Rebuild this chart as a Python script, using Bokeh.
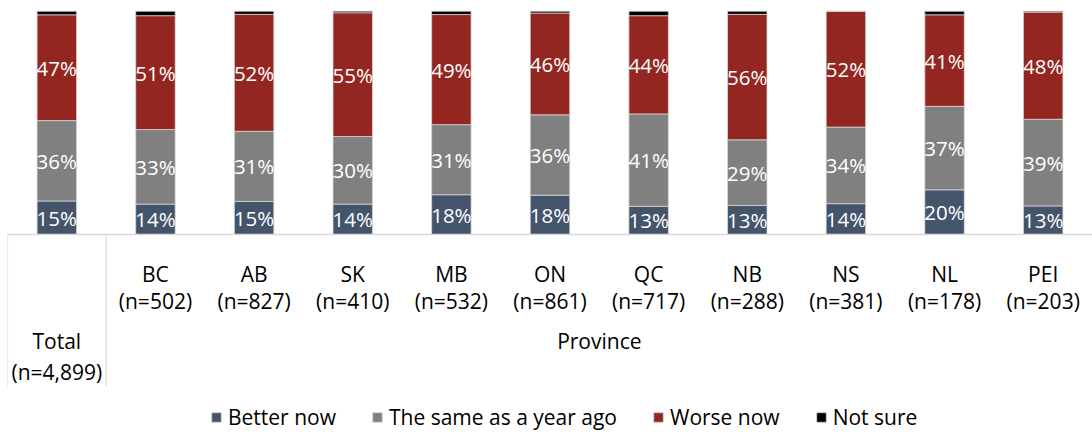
from bokeh.plotting import figure
from bokeh.models import FactorRange, Range1d, Legend, LegendItem, ColumnDataSource
from bokeh.core.properties import value
from bokeh.embed import file_html
from bokeh.resources import INLINE

# ---- data ----
group_names = ["Total\n(n=4,899)", "Province"]
groups = [group_names[0]] + [group_names[1]] * 10
provinces = ["", "BC", "AB", "SK", "MB", "ON", "QC", "NB", "NS", "NL", "PEI"]
sample_sizes = ["", "502", "827", "410", "532", "861", "717", "288", "381", "178", "203"]

better = [15.0, 13.6, 14.8, 13.6, 17.8, 17.6, 12.6, 13.0, 13.8, 20.0, 12.8]
same = [36.0, 33.4, 31.4, 30.3, 31.4, 36.0, 41.4, 29.4, 34.3, 37.4, 38.8]
worse = [47.4, 51.0, 52.4, 55.4, 49.3, 45.6, 44.0, 56.2, 51.9, 41.0, 48.0]
not_sure = [1.6, 2.0, 1.4, 0.7, 1.5, 0.8, 2.0, 1.4, 0.0, 1.6, 0.4]

series_names = ["Better now", "The same as a year ago", "Worse now", "Not sure"]
colors = ["#44546A", "#808080", "#932621", "#000000"]

FONT = "Open Sans"

sub_labels = [f"{p}\n(n={n})" if p else "" for p, n in zip(provinces, sample_sizes)]
x = list(zip(groups, sub_labels))

src = ColumnDataSource(dict(x=x, better=better, same=same, worse=worse, not_sure=not_sure))

p = figure(
    x_range=FactorRange(*x, factor_padding=0, group_padding=0, range_padding=0),
    y_range=Range1d(-88.7, 104.8),
    width=1092, height=432,
    output_backend="svg", toolbar_location=None,
    y_axis_location=None,
    min_border_left=7, min_border_right=0, min_border_top=0, min_border_bottom=0,
)
p.outline_line_color = None
p.xgrid.grid_line_color = None
p.ygrid.grid_line_color = None

renderers = p.vbar_stack(
    ["better", "same", "worse", "not_sure"], x="x", width=0.4, source=src,
    fill_color=colors, line_color="#D9D9D9", line_width=0.75,
)

# data labels
lab_x, lab_y, lab_t = [], [], []
for i in range(len(x)):
    base = 0.0
    for s in (better, same, worse):
        lab_x.append(x[i])
        lab_y.append(base + s[i] / 2)
        lab_t.append(f"{round(s[i])}%")
        base += s[i]
p.text(x=lab_x, y=lab_y, text=lab_t, text_align="center", text_baseline="middle",
       text_color="white", text_font=value(FONT), text_font_size="20.5px")

# category separators (Excel-style box lines)
sep_x = [(groups[0], sub_labels[0], -0.5), (groups[0], sub_labels[0], 0.5)]
p.segment(x0=sep_x, y0=[0, 0], x1=sep_x, y1=[-68, -68], line_color="#D9D9D9", line_width=1.2)

ax = p.xaxis[0]
ax.fixed_location = 0
ax.axis_line_color = "#D9D9D9"
ax.axis_line_width = 1.5
ax.major_tick_line_color = None
ax.minor_tick_line_color = None
ax.major_tick_out = 0
ax.major_tick_in = 0
ax.major_label_standoff = 26
ax.major_label_text_font = FONT
ax.major_label_text_font_size = "21px"
ax.major_label_text_color = "#000000"
ax.major_label_text_line_height = 0.95
ax.group_text_color = None  # group level drawn below as text, Excel-like placement
ax.group_text_font_size = "1px"
ax.separator_line_color = None

# outer category level (Total / Province), centred on its group
p.text(x=group_names, y=[-41.5, -41.5], text=group_names, text_align="center",
       text_baseline="top", text_color="#000000", text_font=value(FONT),
       text_font_size="21px", text_line_height=1.1)

legend = Legend(
    items=[LegendItem(label=n, renderers=[r]) for n, r in zip(series_names, renderers)],
    orientation="horizontal", location=(203, 1),
    glyph_width=12, glyph_height=12, label_standoff=6, spacing=35,
    padding=0, margin=0, border_line_color=None, background_fill_alpha=0,
    label_text_font=FONT, label_text_font_size="21px", label_text_color="#000000",
)
p.add_layout(legend)

open("out.html", "w").write(file_html(p, INLINE))
